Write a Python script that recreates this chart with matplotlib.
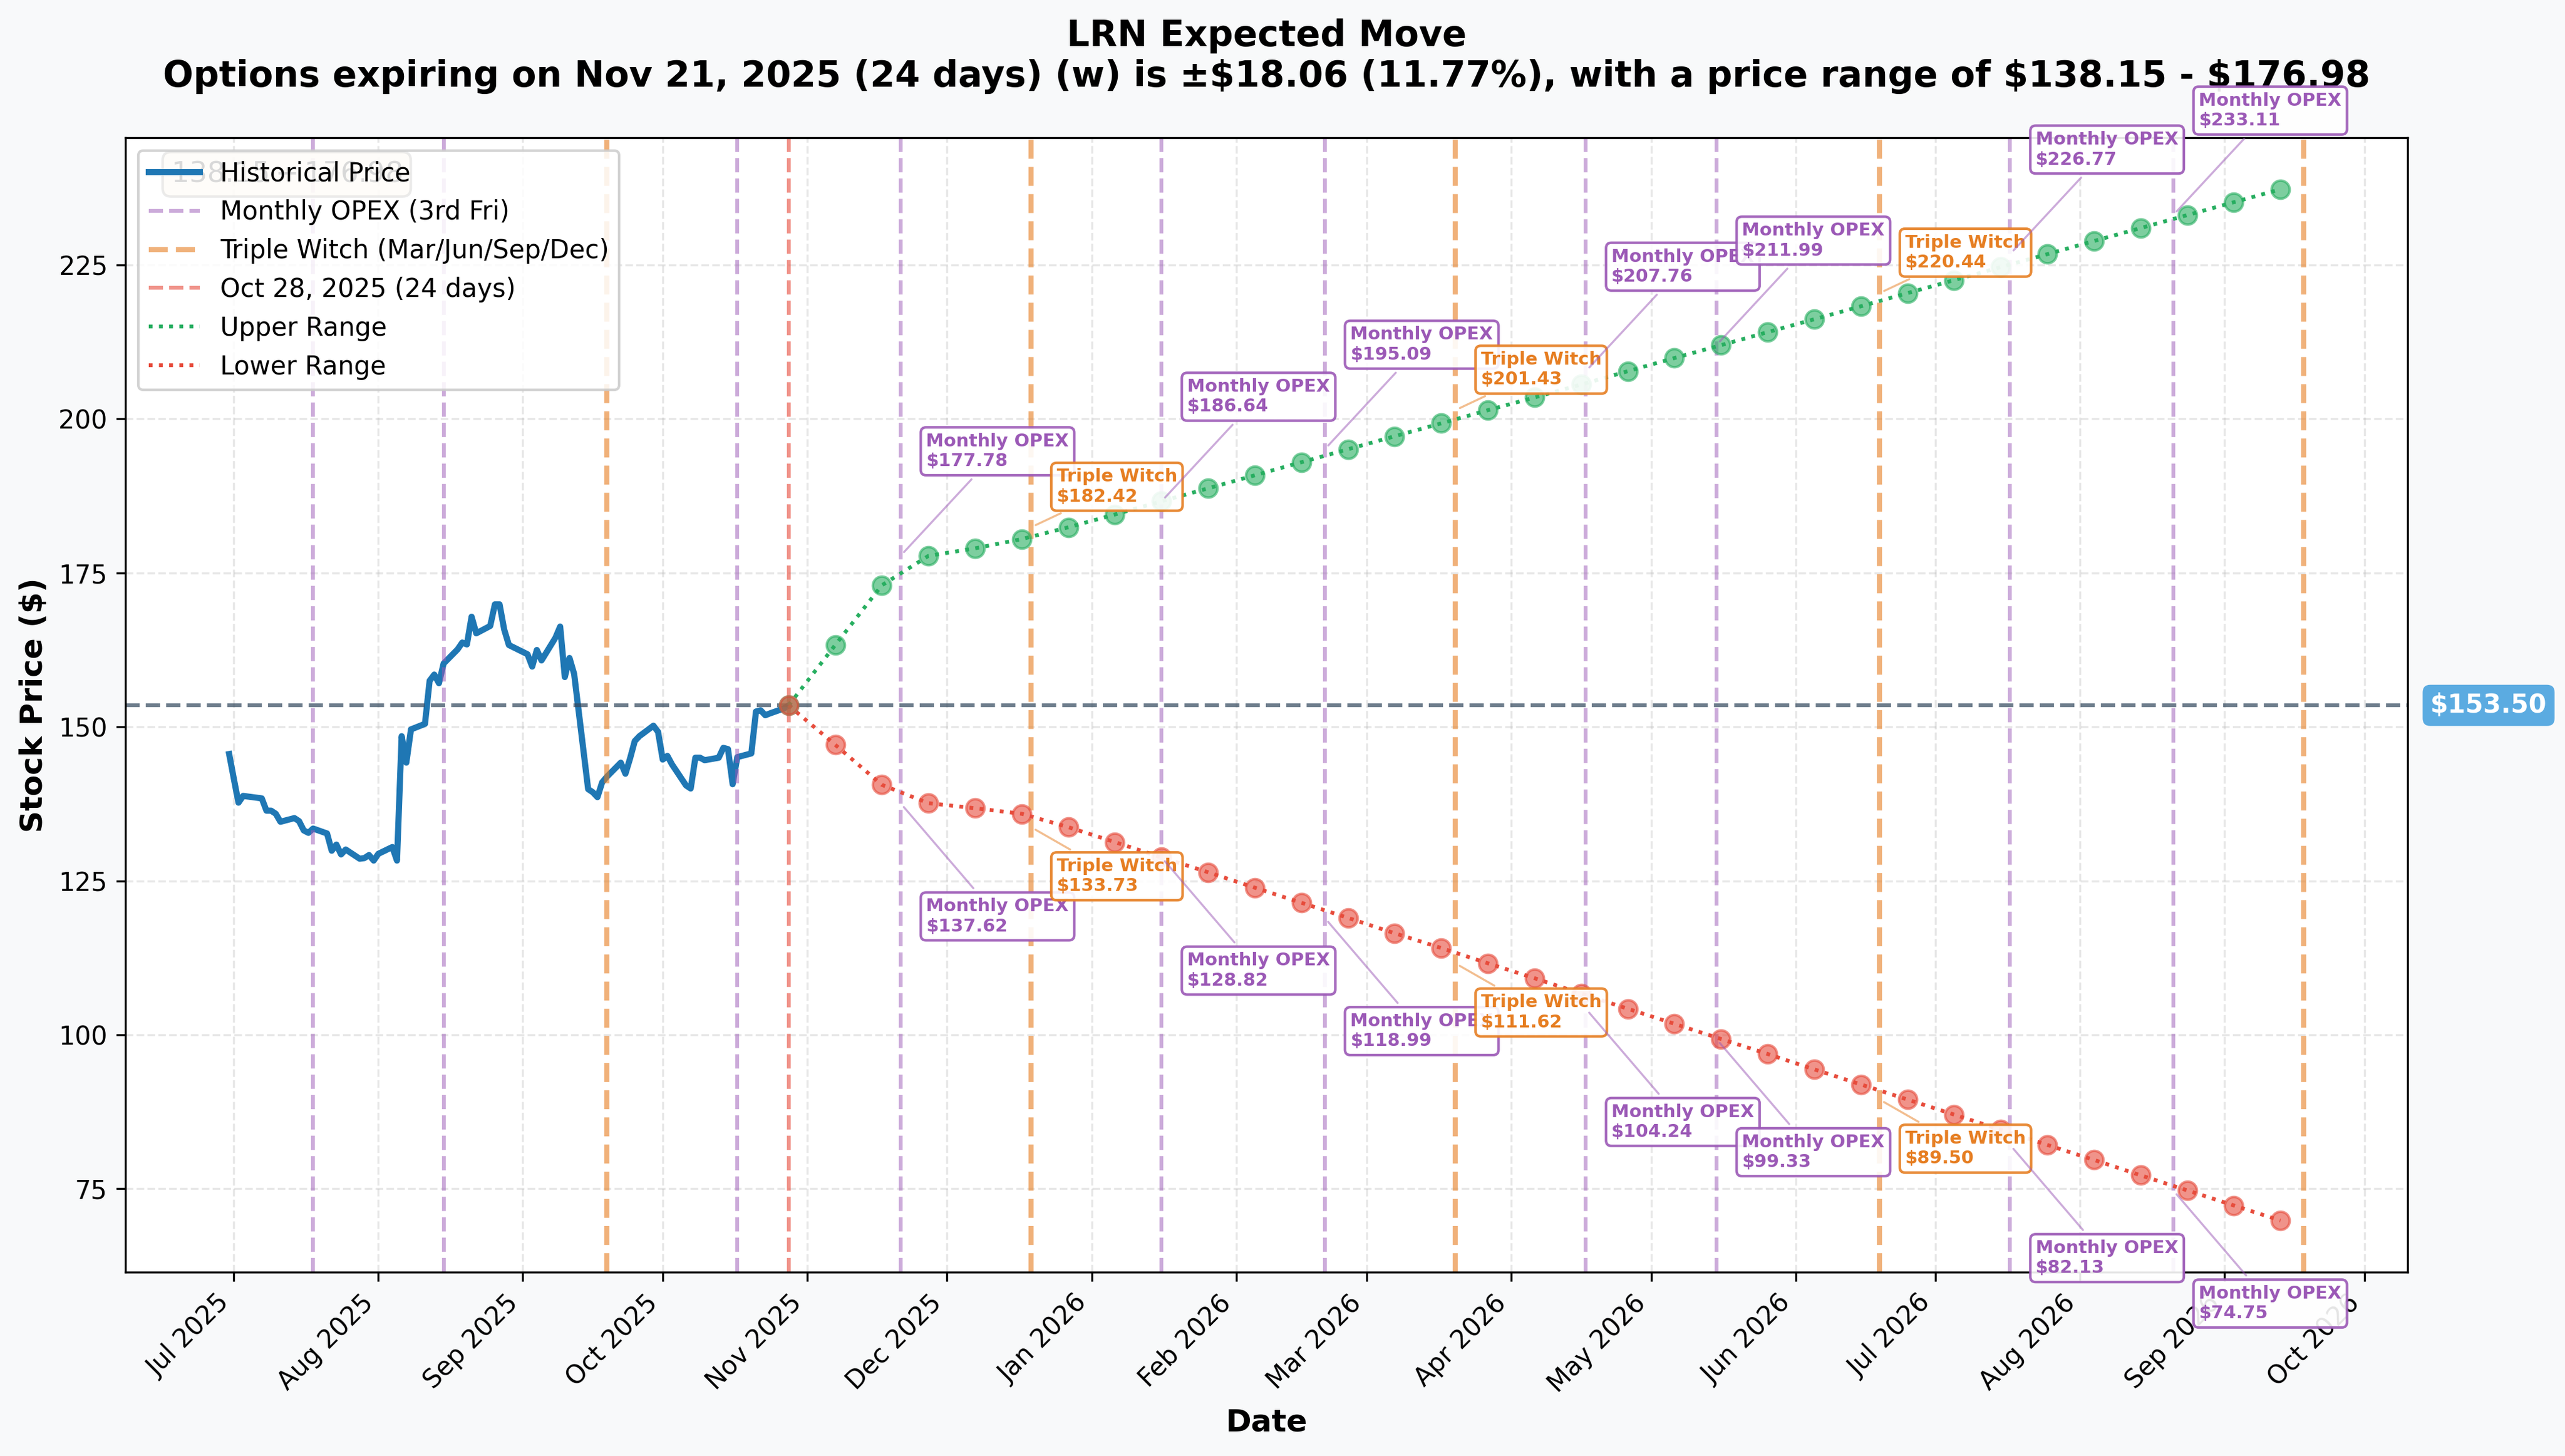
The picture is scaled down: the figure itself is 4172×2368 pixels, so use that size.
import matplotlib
matplotlib.use("Agg")
import matplotlib.pyplot as plt
import matplotlib.dates as mdates
import matplotlib.transforms as mtransforms
import pandas as pd

# --- data ---
ticker = "LRN"
current_price = 153.50
expected_move = 18.06
move_pct = 11.77
range_low = 138.15
range_high = 176.98
expiry_label = "Nov 21, 2025"
days_out = 24

hist_dates = pd.bdate_range("2025-06-30", "2025-10-28", freq="C",
                            holidays=["2025-07-04", "2025-09-01"])
hist_prices = [
    145.6,
    141.6, 137.7, 138.8, 138.4, 136.4, 136.4, 135.9, 134.6, 135.2, 134.7, 133.2,
    132.8, 133.5, 132.7, 129.9, 130.9, 129.3, 130.1, 128.6, 128.7, 129.2, 128.3,
    129.4, 130.5, 128.3, 148.5, 144.2, 149.6, 150.5, 157.5, 158.5, 157.1, 160.3,
    162.6, 163.7, 163.4, 167.9, 165.2, 166.4, 169.9, 169.9, 165.8, 163.3,
    161.8, 159.8, 162.5, 160.8, 164.5, 166.3, 158.1, 161.2, 158.6, 139.9, 139.4,
    138.6, 141.0, 141.9, 144.2, 142.4, 144.9, 147.7, 148.5, 150.2, 149.2,
    144.7, 145.3, 143.9, 140.5, 140.0, 145.0, 145.0, 144.6, 145.0, 146.6, 146.4,
    140.7, 145.1, 145.7, 152.5, 152.7, 151.9, 152.2, 153.0, 153.5,
]

forecast_dates = pd.date_range("2025-10-28", periods=33, freq="10D")
upper_range = [
    153.5, 163.3, 173.0, 177.78, 179.0, 180.5, 182.42, 184.5, 186.64, 188.75,
    190.86, 192.98, 195.09, 197.2, 199.3, 201.43, 203.5, 205.6, 207.76, 209.9,
    211.99, 214.1, 216.2, 218.3, 220.44, 222.55, 224.66, 226.77, 228.9, 231.0,
    233.11, 235.2, 237.3,
]
lower_range = [
    153.5, 147.1, 140.6, 137.62, 136.8, 135.9, 133.73, 131.3, 128.82, 126.4,
    123.9, 121.45, 118.99, 116.5, 114.1, 111.62, 109.2, 106.7, 104.24, 101.8,
    99.33, 96.9, 94.4, 91.95, 89.50, 87.05, 84.6, 82.13, 79.7, 77.2,
    74.75, 72.3, 69.85,
]

monthly_opex = pd.to_datetime([
    "2025-07-18", "2025-08-15", "2025-10-17", "2025-11-21", "2026-01-16",
    "2026-02-20", "2026-04-17", "2026-05-15", "2026-07-17", "2026-08-21",
])
triple_witch = pd.to_datetime([
    "2025-09-19", "2025-12-19", "2026-03-20", "2026-06-19", "2026-09-18",
])

# labelled expirations on the projected cone
annot_dates = pd.to_datetime([
    "2025-11-21", "2025-12-19", "2026-01-16", "2026-02-20", "2026-03-20",
    "2026-04-17", "2026-05-15", "2026-06-19", "2026-07-17", "2026-08-21",
])
annot_kind = ["M", "T", "M", "M", "T", "M", "M", "T", "M", "M"]
annot_upper = [177.78, 182.42, 186.64, 195.09, 201.43, 207.76, 211.99, 220.44, 226.77, 233.11]
annot_lower = [137.62, 133.73, 128.82, 118.99, 111.62, 104.24, 99.33, 89.50, 82.13, 74.75]

purple = "#9b59b6"
orange = "#e67e22"
green = "#27ae60"
red = "#e74c3c"

fig, ax = plt.subplots(figsize=(4172 / 300, 2368 / 300), dpi=300)
fig.patch.set_facecolor("#f8f9fa")
fig.subplots_adjust(left=0.0489, right=0.9386, bottom=0.1263, top=0.9054)

ax.plot(hist_dates, hist_prices, color="#1f77b4", lw=2.4, label="Historical Price")

for i, d in enumerate(monthly_opex):
    ax.axvline(d, color=purple, ls="--", lw=1.5, alpha=0.5,
               label="Monthly OPEX (3rd Fri)" if i == 0 else None)
for i, d in enumerate(triple_witch):
    ax.axvline(d, color=orange, ls="--", lw=2, alpha=0.6,
               label="Triple Witch (Mar/Jun/Sep/Dec)" if i == 0 else None)
ax.axvline(forecast_dates[0], color=red, ls="--", lw=1.5, alpha=0.6,
           label=f"Oct 28, 2025 ({days_out} days)")

ax.axhline(current_price, color="#34495e", ls="--", lw=1.5, alpha=0.7)

ax.plot(forecast_dates, upper_range, color=green, ls=":", lw=1.5, label="Upper Range")
ax.plot(forecast_dates, lower_range, color=red, ls=":", lw=1.5, label="Lower Range")
ax.scatter(forecast_dates, upper_range, color=green, s=50, alpha=0.6, zorder=4)
ax.scatter(forecast_dates, lower_range, color=red, s=50, alpha=0.6, zorder=4)

for d, kind, up, lo in zip(annot_dates, annot_kind, annot_upper, annot_lower):
    if kind == "M":
        col, name, dy_up, dy_lo = purple, "Monthly OPEX", 35, -50
    else:
        col, name, dy_up, dy_lo = orange, "Triple Witch", 10, -25
    for val, dy in ((up, dy_up), (lo, dy_lo)):
        ax.annotate(f"{name}\n${val:.2f}", xy=(d, val), xytext=(10, dy),
                    textcoords="offset points", fontsize=7, fontweight="bold",
                    color=col,
                    bbox=dict(boxstyle="round,pad=0.3", fc="white", ec=col,
                              lw=1, alpha=0.9),
                    arrowprops=dict(arrowstyle="-", color=col, alpha=0.5, lw=0.8),
                    zorder=6)

# range text box (two dollar signs -> mathtext, as in the original)
ax.text(0.02, 0.98, f"${range_low:.2f} - ${range_high:.2f}", transform=ax.transAxes,
        fontsize=11, va="top", ha="left",
        bbox=dict(boxstyle="round", facecolor="wheat", alpha=0.5))

# price tag on the right
trans = mtransforms.blended_transform_factory(ax.transAxes, ax.transData)
ax.text(1.01, current_price, f"${current_price:.2f}", transform=trans,
        va="center", ha="left", fontsize=10, fontweight="bold", color="white",
        bbox=dict(boxstyle="round,pad=0.3", fc="#3498db", ec="none", alpha=0.8))

ax.set_title(f"{ticker} Expected Move\nOptions expiring on {expiry_label} ({days_out} days) (w) "
             f"is \u00b1${expected_move:.2f} ({move_pct:.2f}%), with a price range of "
             f"${range_low:.2f} - ${range_high:.2f}",
             fontsize=14, fontweight="bold", pad=20)
ax.set_xlabel("Date", fontsize=12, fontweight="bold")
ax.set_ylabel("Stock Price ($)", fontsize=12, fontweight="bold")

ax.xaxis.set_major_locator(mdates.MonthLocator())
ax.xaxis.set_major_formatter(mdates.DateFormatter("%b %Y"))
plt.setp(ax.get_xticklabels(), rotation=45, ha="right")

ax.grid(True, alpha=0.3, linestyle="--")
ax.legend(loc="upper left", framealpha=0.85)

fig.savefig("out.png", dpi=300, facecolor=fig.get_facecolor())
